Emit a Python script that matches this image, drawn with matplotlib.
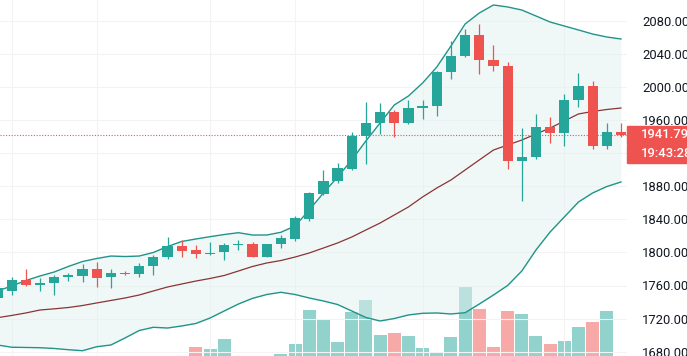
import numpy as np
import matplotlib
matplotlib.use("Agg")
import matplotlib.pyplot as plt
from matplotlib.patches import Rectangle

plt.rcParams['font.family'] = ['Roboto', 'DejaVu Sans']

# daily candles, oldest first (first one is cut by the left edge)
opens = [1745, 1753.7, 1766.7, 1760.2, 1762.8, 1769.9, 1771.8, 1779.6, 1769.9, 1775.5,
         1774, 1783.6, 1794, 1808.1, 1802.9, 1798, 1800.1, 1808.5, 1809.8, 1794.8,
         1809.8, 1815.8, 1840.4, 1870.6, 1886.3, 1901.2, 1940.7, 1956, 1970, 1956,
         1974.9, 1976.9, 2018.4, 2037.3, 2062.7, 2032.5, 2025.6, 1910.8, 1914.9, 1951.9,
         1944.7, 1984.2, 2001.1, 1928.6, 1945.9]
highs = [1760, 1770.6, 1779.6, 1768.7, 1772.7, 1774.8, 1786, 1788.8, 1779.6, 1777.6,
         1786.8, 1796.9, 1819, 1815, 1808.9, 1812.9, 1811, 1815, 1813, 1810.5,
         1821, 1844, 1872.5, 1899.6, 1907.7, 1945.9, 1982.1, 1980.9, 1972, 1984.2,
         1984.2, 2019, 2055.8, 2069.6, 2076, 2050.6, 2029.7, 1950, 1966.9, 1963.3,
         1991.1, 2016.4, 2007.1, 1956, 1956.7]
lows = [1740, 1748, 1759, 1753.7, 1748, 1765.4, 1764.6, 1758.5, 1757.3, 1772.3,
        1769.9, 1772.7, 1791.7, 1794.8, 1793.6, 1797, 1790.8, 1802.9, 1794, 1794,
        1805, 1814, 1838, 1869.4, 1883.6, 1899.6, 1906.8, 1942.7, 1939.8, 1955,
        1960.8, 1964.8, 2009.2, 2036, 2015.6, 2019.6, 1900.4, 1862.5, 1912.5, 1931.8,
        1929, 1975.3, 1925, 1925, 1940]
closes = [1757, 1766.7, 1760.2, 1762.8, 1769.9, 1772.3, 1779.6, 1769.4, 1774.8, 1774,
          1783.6, 1794, 1808.1, 1802.1, 1798, 1799.6, 1808.9, 1809.2, 1794.8, 1809.8,
          1817, 1841.2, 1871.4, 1886.3, 1902.4, 1940.7, 1956, 1970, 1956, 1974.1,
          1977.3, 2018.4, 2037.3, 2062.7, 2032.5, 2025.6, 1910.8, 1914.9, 1951.9, 1944.7,
          1984.2, 2001.1, 1928.6, 1945.9, 1941.79]
# volume (arbitrary units, low part of the pane is cut off)
volumes = [20, 22, 18, 25, 21, 19, 24, 26, 23, 20,
           22, 25, 27, 24, 39.3, 37, 47, 26, 28, 25,
           32, 41.7, 76, 66.7, 44.3, 74.3, 86, 51, 52.7, 50,
           37.7, 33.7, 48.7, 99.3, 76.7, 39.3, 75.3, 72, 50, 42,
           45, 59, 64.3, 75.3, 12]
# bollinger bands
bb_upper = [1753.4, 1759.4, 1766, 1771.5, 1776.3, 1783, 1789, 1792.6, 1795.6, 1795,
            1795.6, 1799.9, 1807.1, 1813.2, 1816.2, 1819, 1821.6, 1823.8, 1821, 1821,
            1824.3, 1831.9, 1851.2, 1871.8, 1891.1, 1911.7, 1934.7, 1956.4, 1978.1, 1989,
            2004.7, 2024, 2049.4, 2076, 2089.3, 2099, 2096.6, 2092.9, 2085.7, 2078.4,
            2073.6, 2068.8, 2063.9, 2060.3, 2057.9]
bb_basis = [1721.1, 1723.8, 1726.8, 1730.4, 1731.8, 1733.4, 1735.8, 1738.9, 1741.9, 1744.9,
            1748.5, 1753.4, 1758.2, 1761.8, 1765.4, 1768.5, 1772.1, 1777.5, 1783, 1787.2,
            1790.2, 1794.4, 1799.3, 1805.3, 1811.4, 1818.6, 1827.1, 1835.5, 1845.2, 1854.9,
            1867, 1877.8, 1887.5, 1899.6, 1911.7, 1923.7, 1929.8, 1935.8, 1943.1, 1950.3,
            1958.8, 1967.3, 1970.3, 1972.7, 1974.5]
bb_lower = [1688.1, 1685.4, 1685.1, 1684.8, 1683.9, 1682.4, 1681.2, 1686, 1688.1, 1696.6,
            1705.6, 1709.5, 1708.6, 1711.1, 1714.1, 1720.7, 1729.2, 1737.6, 1744.5, 1749.1,
            1751.8, 1749.1, 1744.9, 1741.3, 1737, 1729.2, 1721.3, 1717.1, 1720.1, 1724.4,
            1726.4, 1726.8, 1725.6, 1727.1, 1737.6, 1748.5, 1760, 1777.5, 1802.9, 1824.7,
            1842.8, 1860.9, 1871.8, 1879.6, 1885.1]
price_ticks = [1680, 1720, 1760, 1800, 1840, 1880, 1920, 1960, 2000, 2040, 2080]
period_breaks = [1, 7, 15, 21, 30, 40]
last_price = "1941.79"
countdown = "19:43:28"

UP = '#26a69a'
DOWN = '#ef5350'
W, H = 687, 356

o = np.array(opens); c = np.array(closes)
h = np.array(highs); l = np.array(lows)
idx = np.arange(len(o))
up = c >= o
colors = np.where(up, UP, DOWN)
vol_colors = np.where(up, '#92d2cc', '#f7a9a7')

fig = plt.figure(figsize=(W / 100, H / 100), dpi=100)
fig.patch.set_facecolor('white')
rect = [0, 0, 627 / W, 1]
ax_v = fig.add_axes(rect)
ax = fig.add_axes(rect, sharex=ax_v)
ax.patch.set_visible(False)

# volume pane
ax_v.bar(idx, volumes, width=0.92, color=vol_colors, linewidth=0)
ax_v.set_ylim(30, 30 + 356)
ax_v.axis('off')

# grid
for p in price_ticks:
    ax.axhline(p, color='#f3f3f3', lw=0.8, zorder=0)
for b in period_breaks:
    ax.axvline(b, color='#f3f3f3', lw=0.8, zorder=0)

# bands
ax.fill_between(idx, bb_lower, bb_upper, color='#e3f1f1', alpha=0.5, lw=0, zorder=1)
ax.plot(idx, bb_upper, color='#1f9487', lw=1.0, zorder=2)
ax.plot(idx, bb_lower, color='#1f9487', lw=1.0, zorder=2)
ax.plot(idx, bb_basis, color='#8a3434', lw=0.9, zorder=2)

# candles
ax.vlines(idx, l, h, colors=colors, lw=0.9, zorder=3)
body_lo = np.minimum(o, c)
body_h = np.maximum(np.abs(c - o), 1.2)
ax.bar(idx, body_h, bottom=body_lo, width=0.72, color=colors, linewidth=0, zorder=4)

ax.axhline(closes[-1], color=DOWN, ls=(0, (1, 1.5)), lw=0.8, zorder=2)

ax.set_xlim((0 + 2.5) / 14.17, (627 + 2.5) / 14.17)
ax.set_ylim(2080 - (356 - 20.7) / 0.8275, 2080 + 20.7 / 0.8275)
ax.set_yticks(price_ticks)
# 1920 sits under the price tags, so its label is left blank
ax.set_yticklabels(["" if p == 1920 else f"{p:.2f}" for p in price_ticks])
ax.yaxis.tick_right()
ax.tick_params(axis='y', length=0, pad=11, labelsize=9.4, labelcolor='#131722')
ax.tick_params(axis='x', bottom=False, labelbottom=False)
for s in ax.spines.values():
    s.set_visible(False)

# last price and countdown tags
for y0, y1, txt in [(126, 144, last_price), (145, 162.5, countdown)]:
    fig.patches.append(Rectangle((627 / W, 1 - y1 / H), 60 / W, (y1 - y0) / H,
                                 transform=fig.transFigure, color=DOWN, zorder=5))
    fig.text(641 / W, 1 - (y0 + y1) / 2 / H, txt, color='white', fontsize=9.4,
             fontweight='medium', va='center', ha='left', zorder=6)

fig.savefig('out.png', dpi=100)
